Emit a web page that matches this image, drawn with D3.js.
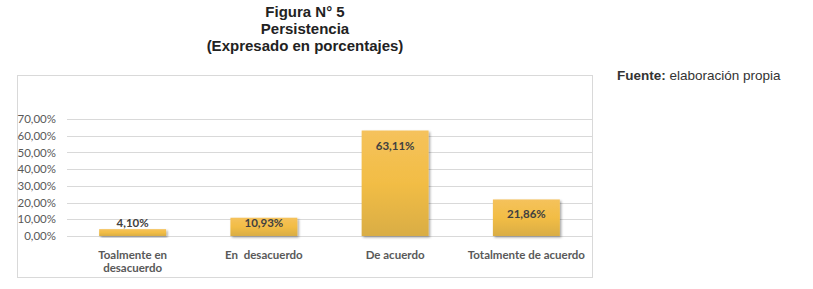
<!DOCTYPE html>
<html>
<head>
<meta charset="utf-8">
<script src="https://cdn.jsdelivr.net/npm/d3@7"></script>
<style>
  body { margin: 0; background: #fff; }
  svg text { font-family: Lato, "Open Sans", sans-serif; }
</style>
</head>
<body>
<div id="chart"></div>
<script>
const titleLines = ["Figura N° 5", "Persistencia", "(Expresado en porcentajes)"];
const categories = [["Toalmente en", "desacuerdo"], ["En  desacuerdo"], ["De acuerdo"], ["Totalmente de acuerdo"]];
const values = [4.10, 10.93, 63.11, 21.86];
const tickValues = [0, 10, 20, 30, 40, 50, 60, 70];

const width = 813;
const height = 289;

const svg = d3.select("#chart").append("svg")
  .attr("width", width)
  .attr("height", height);

const defs = svg.append("defs");
const grad = defs.append("linearGradient")
  .attr("id", "barGrad")
  .attr("x1", 0).attr("y1", 0).attr("x2", 0).attr("y2", 1);
grad.append("stop").attr("offset", "0%").attr("stop-color", "#f5c25c");
grad.append("stop").attr("offset", "50%").attr("stop-color", "#f2bd45");
grad.append("stop").attr("offset", "100%").attr("stop-color", "#d9ad44");

const shadow = defs.append("filter").attr("id", "shadow")
  .attr("x", "-20%").attr("y", "-20%").attr("width", "140%").attr("height", "140%");
shadow.append("feDropShadow")
  .attr("dx", 1.5).attr("dy", 1.5).attr("stdDeviation", 1.2)
  .attr("flood-color", "#000").attr("flood-opacity", 0.35);

// titles
svg.append("g")
  .selectAll("text")
  .data(titleLines)
  .join("text")
  .attr("x", 305)
  .attr("y", (d, i) => 17 + i * 17)
  .attr("text-anchor", "middle")
  .style("font-family", "'Liberation Sans', Arial, sans-serif")
  .style("font-weight", "bold")
  .style("font-size", "15px")
  .attr("fill", "#222")
  .text(d => d);

const fuente = svg.append("text")
  .attr("x", 617)
  .attr("y", 80)
  .style("font-family", "'Liberation Sans', Arial, sans-serif")
  .style("font-size", "13.5px")
  .attr("fill", "#333");
fuente.append("tspan").style("font-weight", "bold").text("Fuente:");
fuente.append("tspan").text(" elaboración propia");

// chart frame
svg.append("rect")
  .attr("x", 17.5).attr("y", 75.5)
  .attr("width", 575).attr("height", 202)
  .attr("fill", "none")
  .attr("stroke", "#d9d9d9");

const margin = { left: 67, right: 592, top: 119, bottom: 236 };

const x = d3.scaleBand()
  .domain(d3.range(values.length))
  .range([margin.left, margin.right])
  .paddingInner(0.49)
  .paddingOuter(0.245);

const y = d3.scaleLinear()
  .domain([0, 70])
  .range([margin.bottom, margin.top]);

// gridlines
svg.append("g")
  .selectAll("line")
  .data(tickValues)
  .join("line")
  .attr("x1", margin.left)
  .attr("x2", margin.right)
  .attr("y1", d => Math.round(y(d)) + 0.5)
  .attr("y2", d => Math.round(y(d)) + 0.5)
  .attr("stroke", "#d9d9d9");

// y axis labels
const yAxis = d3.axisLeft(y)
  .tickValues(tickValues)
  .tickSize(0)
  .tickPadding(11)
  .tickFormat(d => d.toFixed(2).replace(".", ",") + "%");

svg.append("g")
  .attr("transform", `translate(${margin.left},0)`)
  .call(yAxis)
  .call(g => g.select(".domain").remove())
  .call(g => g.selectAll("text")
    .attr("fill", "#595959")
    .style("font-family", "Lato, sans-serif")
    .style("font-size", "11.5px"));

// bars
svg.append("g")
  .selectAll("rect")
  .data(values)
  .join("rect")
  .attr("x", (d, i) => x(i))
  .attr("y", d => y(d))
  .attr("width", x.bandwidth())
  .attr("height", d => y(0) - y(d))
  .attr("fill", "url(#barGrad)")
  .attr("filter", "url(#shadow)");

// value labels
svg.append("g")
  .selectAll("text")
  .data(values)
  .join("text")
  .attr("x", (d, i) => x(i) + x.bandwidth() / 2)
  .attr("y", d => Math.min(y(d) + 15, y(0) - 13) + 4)
  .attr("text-anchor", "middle")
  .attr("fill", "#404040")
  .style("font-weight", "bold")
  .style("font-size", "11.5px")
  .text(d => d.toFixed(2).replace(".", ",") + "%");

// category labels
const cat = svg.append("g")
  .selectAll("text")
  .data(categories)
  .join("text")
  .attr("x", (d, i) => x(i) + x.bandwidth() / 2)
  .attr("y", 259)
  .attr("text-anchor", "middle")
  .attr("fill", "#595959")
  .style("font-weight", "bold")
  .style("font-size", "11.5px");

cat.selectAll("tspan")
  .data(d => d)
  .join("tspan")
  .attr("x", function () { return d3.select(this.parentNode).attr("x"); })
  .attr("dy", (d, i) => i === 0 ? 0 : 13)
  .style("white-space", "pre")
  .text(d => d);
</script>
</body>
</html>
